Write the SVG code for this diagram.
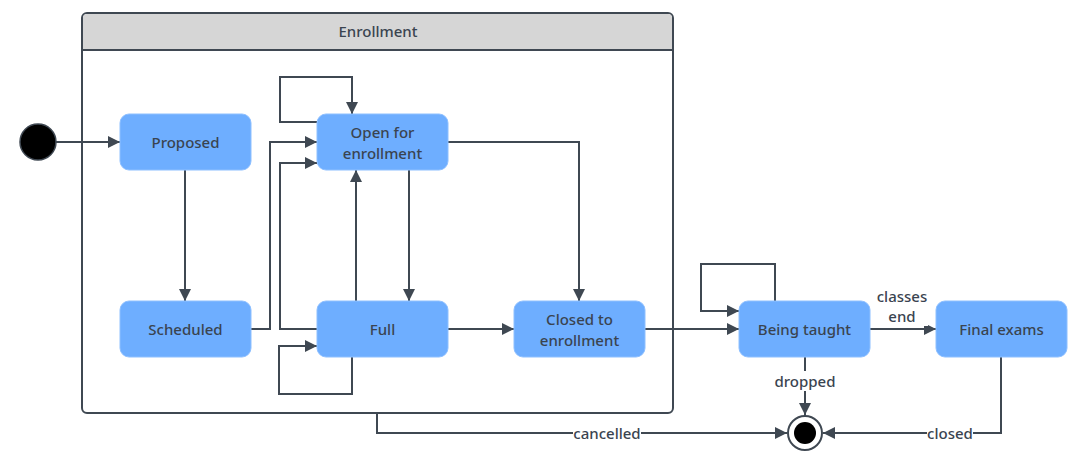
<svg xmlns="http://www.w3.org/2000/svg" width="1077" height="460" viewBox="0 0 1077 460">
<style>
.node{fill:#6eaeff;stroke:#8ec0ff;stroke-width:1}
.nt{font-family:"Noto Sans","Open Sans",sans-serif;font-size:15px;font-weight:500;fill:#3a4450;text-anchor:middle;dominant-baseline:central}
.lbl{font-family:"Noto Sans","Open Sans",sans-serif;font-size:15px;font-weight:500;fill:#3a4450;text-anchor:middle;dominant-baseline:central}
.c{fill:none;stroke:#3f4852;stroke-width:2}
</style>
<defs>
<marker id="ah" viewBox="0 0 12 12" refX="12" refY="6" markerWidth="13" markerHeight="12" markerUnits="userSpaceOnUse" orient="auto">
<path d="M0,0 L12,6 L0,12 z" fill="#3f4852"/>
</marker>
</defs>
<rect width="1077" height="460" fill="#ffffff"/>
<g id="enrollment">
<rect x="82" y="13" width="591" height="400" rx="5" fill="#ffffff" stroke="#3f4852" stroke-width="2"/>
<path d="M83,50 V18 Q83,14 87,14 H668 Q672,14 672,18 V50 Z" fill="#d6d6d6"/>
<line x1="82" y1="50" x2="673" y2="50" stroke="#3f4852" stroke-width="2"/>
<text class="nt" x="378" y="31">Enrollment</text>
</g>
<g id="connectors">
<path class="c" d="M56,142 H120" marker-end="url(#ah)"/>
<path class="c" d="M185,170 V301" marker-end="url(#ah)"/>
<path class="c" d="M251,329 H270 V142 H317" marker-end="url(#ah)"/>
<path class="c" d="M317,329 H280 V163 H317" marker-end="url(#ah)"/>
<path class="c" d="M317,122 H280 V77 H352 V114" marker-end="url(#ah)"/>
<path class="c" d="M356,301 V170" marker-end="url(#ah)"/>
<path class="c" d="M409,170 V301" marker-end="url(#ah)"/>
<path class="c" d="M352,357 V394 H279 V346 H317" marker-end="url(#ah)"/>
<path class="c" d="M448,142 H579 V301" marker-end="url(#ah)"/>
<path class="c" d="M448,329 H514" marker-end="url(#ah)"/>
<path class="c" d="M645,329 H739" marker-end="url(#ah)"/>
<path class="c" d="M775,301 V264 H701 V311 H739" marker-end="url(#ah)"/>
<path class="c" d="M870,329 H936" marker-end="url(#ah)"/>
<path class="c" d="M805,357 V415" marker-end="url(#ah)"/>
<path class="c" d="M1001,357 V433 H823" marker-end="url(#ah)"/>
<path class="c" d="M377,413 V433 H787" marker-end="url(#ah)"/>
<rect x="876" y="286" width="52" height="40" fill="#ffffff"/>
<text class="lbl" x="902" y="296">classes</text>
<text class="lbl" x="902" y="316">end</text>
<rect x="775" y="371" width="60" height="20" fill="#ffffff"/>
<text class="lbl" x="805" y="381">dropped</text>
<rect x="927" y="424" width="46" height="18" fill="#ffffff"/>
<text class="lbl" x="950" y="433">closed</text>
<rect x="573" y="424" width="68" height="18" fill="#ffffff"/>
<text class="lbl" x="607" y="433">cancelled</text>
</g>
<g id="initial"><circle cx="38" cy="142" r="18" fill="#000000" stroke="#3f4852" stroke-width="1.5"/></g>
<g id="proposed"><rect class="node" x="120" y="114" width="131" height="56" rx="9"/><text class="nt" x="185.5" y="142">Proposed</text></g>
<g id="open"><rect class="node" x="317" y="114" width="131" height="56" rx="9"/><text class="nt" x="382.5" y="132">Open for</text><text class="nt" x="382.5" y="153">enrollment</text></g>
<g id="scheduled"><rect class="node" x="120" y="301" width="131" height="56" rx="9"/><text class="nt" x="185.5" y="329">Scheduled</text></g>
<g id="full"><rect class="node" x="317" y="301" width="131" height="56" rx="9"/><text class="nt" x="382.5" y="329">Full</text></g>
<g id="closed"><rect class="node" x="514" y="301" width="131" height="56" rx="9"/><text class="nt" x="579.5" y="319">Closed to</text><text class="nt" x="579.5" y="340">enrollment</text></g>
<g id="taught"><rect class="node" x="739" y="301" width="131" height="56" rx="9"/><text class="nt" x="804.5" y="329">Being taught</text></g>
<g id="exams"><rect class="node" x="936" y="301" width="131" height="56" rx="9"/><text class="nt" x="1001.5" y="329">Final exams</text></g>
<g id="final"><circle cx="805" cy="433" r="17" fill="#ffffff" stroke="#3f4852" stroke-width="2"/><circle cx="805" cy="433" r="11" fill="#000000"/></g>
</svg>
